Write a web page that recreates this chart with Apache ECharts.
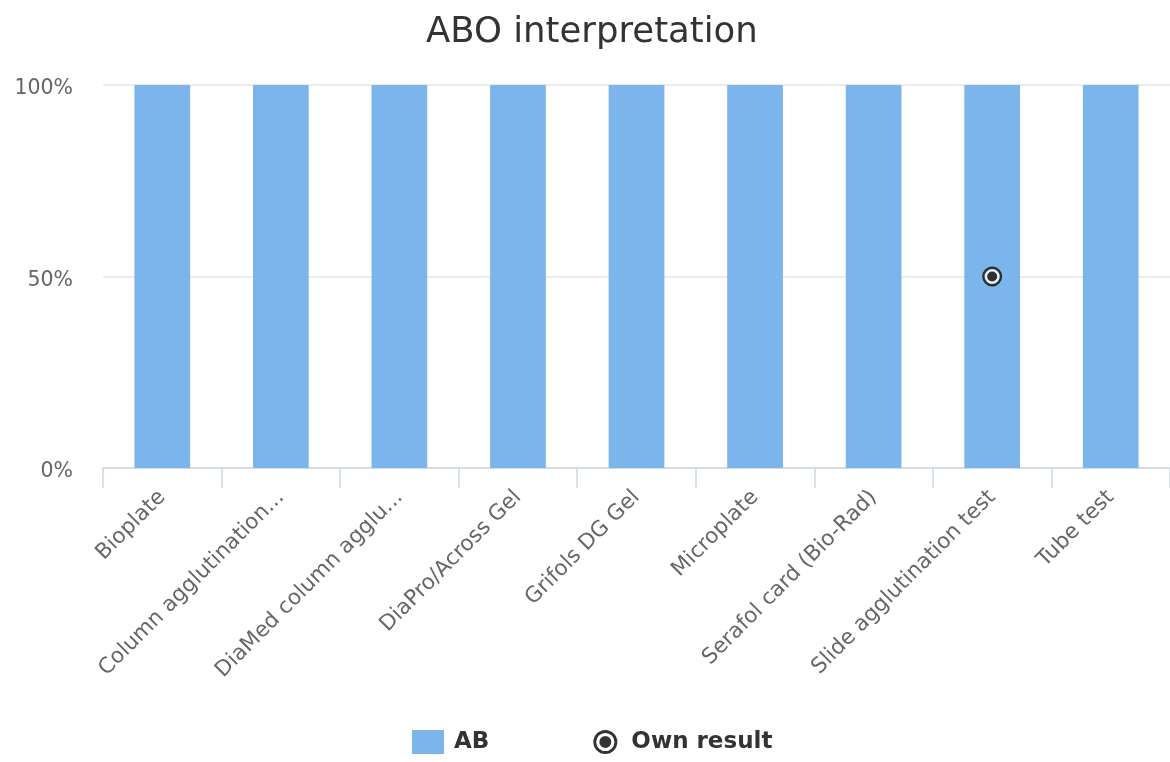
<!DOCTYPE html>
<html>
<head>
<meta charset="utf-8">
<script src="https://cdn.jsdelivr.net/npm/echarts@6/dist/echarts.min.js"></script>
<style>html,body{margin:0;padding:0;background:#fff}#c{width:1170px;height:762px}</style>
</head>
<body>
<div id="c"></div>
<script>
const categories = ['Bioplate','Column agglutination...','DiaMed column agglu...','DiaPro/Across Gel','Grifols DG Gel','Microplate','Serafol card (Bio-Rad)','Slide agglutination test','Tube test'];
const abValues = [100,100,100,100,100,100,100,100,100];
const ownResult = [['Slide agglutination test', 50]];
const yTicks = [0, 50, 100];

const ownPath = 'path://M10,0 A10,10 0 1,1 10,20 A10,10 0 1,1 10,0 Z M10,2.4 A7.6,7.6 0 1,0 10,17.6 A7.6,7.6 0 1,0 10,2.4 Z M10,5 A5,5 0 1,1 10,15 A5,5 0 1,1 10,5 Z';
const font = 'DejaVu Sans';
const chart = echarts.init(document.getElementById('c'));
chart.setOption({
  animation: false,
  textStyle: { fontFamily: font },
  title: { text: 'ABO interpretation', left: 421, top: 10,
    textStyle: { fontFamily: font, fontSize: 35.5, fontWeight: 'normal', color: '#333' } },
  grid: { left: 103, right: 0, top: 85, bottom: 294, containLabel: false },
  legend: {
    bottom: 3, left: 407, itemGap: 104, itemWidth: 32, itemHeight: 24,
    textStyle: { fontFamily: font, fontSize: 23, fontWeight: 'bold', color: '#333', padding: [0, 0, 0, 5] },
    data: [{ name: 'AB', icon: 'rect' }, { name: 'Own result', icon: ownPath }]
  },
  xAxis: {
    type: 'category', data: categories,
    axisLine: { lineStyle: { color: '#ccd6eb', width: 1.5 } },
    axisTick: { show: true, length: 20, lineStyle: { color: '#ccd6eb', width: 1.5 } },
    axisLabel: { rotate: 45, margin: 26, fontSize: 21.5, color: '#666', fontFamily: font, interval: 0 }
  },
  yAxis: {
    type: 'value', min: 0, max: 100, interval: 50,
    axisLine: { show: false }, axisTick: { show: false },
    splitLine: { lineStyle: { color: '#e6e6e6', width: 1.5 } },
    axisLabel: { margin: 30, fontSize: 20.5, color: '#666', fontFamily: font,
      verticalAlign: 'top', lineHeight: 8,
      formatter: v => yTicks.includes(v) ? v + '%' : '' }
  },
  series: [
    { name: 'AB', type: 'bar', data: abValues, barWidth: '47%', itemStyle: { color: '#7cb5ec' } },
    { name: 'bg', type: 'scatter', data: ownResult, symbol: 'circle', symbolSize: 19, z: 3,
      itemStyle: { color: '#ffffff' }, silent: true },
    { name: 'Own result', type: 'scatter', data: ownResult, symbol: ownPath, symbolSize: 20, z: 4,
      symbolKeepAspect: true, itemStyle: { color: '#000000' } }
  ]
});
</script>
</body>
</html>
